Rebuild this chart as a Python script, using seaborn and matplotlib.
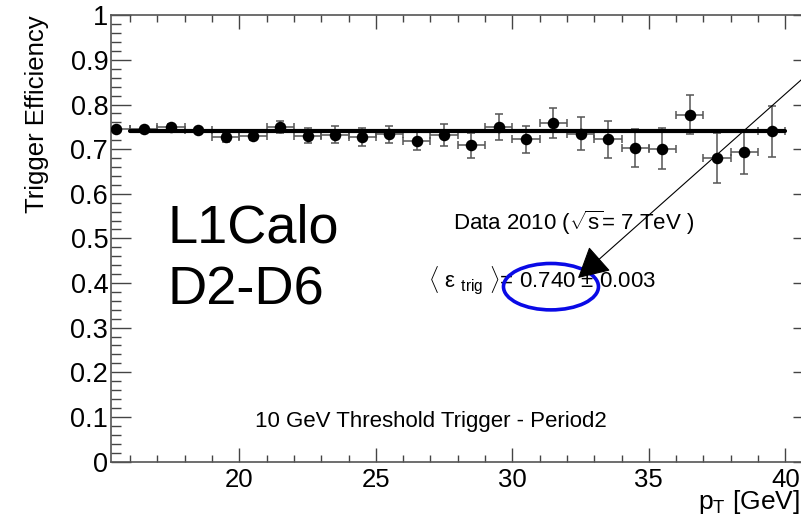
import matplotlib
matplotlib.use("Agg")
import matplotlib.pyplot as plt
from matplotlib.patches import Ellipse
from matplotlib.ticker import MultipleLocator
import pandas as pd
import seaborn as sns

# Trigger efficiency per 1 GeV pT bin
pt_bin_centres = [15.5, 16.5, 17.5, 18.5, 19.5, 20.5, 21.5, 22.5, 23.5, 24.5,
                  25.5, 26.5, 27.5, 28.5, 29.5, 30.5, 31.5, 32.5, 33.5, 34.5,
                  35.5, 36.5, 37.5, 38.5, 39.5]
efficiency = [0.745, 0.745, 0.750, 0.743, 0.727, 0.730, 0.750, 0.730, 0.732, 0.727,
              0.733, 0.718, 0.732, 0.709, 0.750, 0.722, 0.759, 0.734, 0.722, 0.703,
              0.701, 0.777, 0.680, 0.693, 0.740]
efficiency_err = [0.005, 0.005, 0.007, 0.005, 0.010, 0.010, 0.014, 0.017, 0.019, 0.020,
                  0.020, 0.020, 0.025, 0.028, 0.029, 0.031, 0.034, 0.037, 0.041, 0.043,
                  0.046, 0.044, 0.056, 0.049, 0.057]
bin_half_width = [0.5] * len(pt_bin_centres)

# Constant fit over the plateau
fit_value = 0.740
fit_error = 0.003
fit_range = [16, 40]

x_ticks = [20, 25, 30, 35, 40]
x_tick_labels = ["20", "25", "30", "35", "40"]
y_ticks = [0, 0.1, 0.2, 0.3, 0.4, 0.5, 0.6, 0.7, 0.8, 0.9, 1.0]
y_tick_labels = ["0", "0.1", "0.2", "0.3", "0.4", "0.5", "0.6", "0.7", "0.8", "0.9", "1"]

df = pd.DataFrame({"pt": pt_bin_centres, "eff": efficiency,
                   "err": efficiency_err, "xerr": bin_half_width})

sns.set_style("ticks")
plt.rcParams["font.family"] = ["Liberation Sans", "DejaVu Sans"]
plt.rcParams["text.color"] = "black"
plt.rcParams["axes.labelcolor"] = "black"
plt.rcParams["mathtext.fontset"] = "custom"
plt.rcParams["mathtext.rm"] = "Liberation Sans"
plt.rcParams["mathtext.it"] = "Liberation Sans:italic"
plt.rcParams["mathtext.bf"] = "Liberation Sans:bold"

fig = plt.figure(figsize=(8.01, 5.16), dpi=100)
ax = fig.add_axes([111 / 801, (516 - 461.5) / 516, (812.6 - 111) / 801, 446.2 / 516])
ax.set_xlim(15.3, 41.0)
ax.set_ylim(0, 1)

ax.errorbar(df["pt"], df["eff"], yerr=df["err"], xerr=df["xerr"], fmt="none",
            ecolor="#555555", elinewidth=1.1, capsize=3, capthick=1.1, zorder=2)
sns.lineplot(x=fit_range, y=[fit_value] * len(fit_range), color="black",
             linewidth=3, ax=ax, zorder=3)
sns.scatterplot(data=df, x="pt", y="eff", color="black", s=8.3 ** 2,
                linewidth=0, ax=ax, zorder=4)
ax.set_xlabel("")
ax.set_ylabel("")

# Axis styling: ticks inside on all sides
ax.set_xticks(x_ticks, x_tick_labels)
ax.set_yticks(y_ticks, y_tick_labels)
ax.xaxis.set_minor_locator(MultipleLocator(1))
ax.yaxis.set_minor_locator(MultipleLocator(0.02))
ax.tick_params(which="both", direction="in", top=True, right=True,
               color="#444444", labelcolor="black", width=1)
ax.tick_params(axis="y", which="major", length=14.4, labelsize=19.5, pad=2)
ax.tick_params(axis="y", which="minor", length=7.2)
ax.tick_params(axis="x", which="major", length=10, labelsize=18.5, pad=4.5)
ax.tick_params(axis="x", which="minor", length=5)
for sp in ax.spines.values():
    sp.set_color("#555555")
    sp.set_linewidth(1.2)

ax.text(-0.105, 1.0, "Trigger Efficiency", rotation=90, ha="center", va="top",
        fontsize=18.5, transform=ax.transAxes)
ax.text(0.982, -0.107, r"p$_{\mathrm{T}}$ [GeV]", ha="right", va="baseline",
        fontsize=19, transform=ax.transAxes, clip_on=False)

ax.text(0.080, 0.490, "L1Calo", fontsize=39, ha="left", va="baseline",
        transform=ax.transAxes)
ax.text(0.080, 0.351, "D2-D6", fontsize=39, ha="left", va="baseline",
        transform=ax.transAxes)

ax.text(0.4875, 0.519, r"Data 2010 ($\sqrt{\mathrm{s}}$= 7 TeV )", fontsize=16,
        ha="left", va="baseline", transform=ax.transAxes)
ax.text(0.4518, 0.3888,
        r"$\langle$ ε $_{\mathrm{trig}}$ $\rangle$= " + f"{fit_value:.3f} ± {fit_error:.3f}",
        fontsize=16, ha="left", va="baseline", transform=ax.transAxes)
ax.text(0.2052, 0.0773, "10 GeV Threshold Trigger - Period2", fontsize=16,
        ha="left", va="baseline", transform=ax.transAxes)

ax.add_patch(Ellipse((0.6271, 0.3918), 0.1354, 0.104, transform=ax.transAxes,
                     fill=False, edgecolor="#0a0ae6", linewidth=2.6, zorder=6))
ax.annotate("", xy=(0.6656, 0.4112), xycoords="axes fraction",
            xytext=(1.0248, 0.9126), textcoords="axes fraction",
            arrowprops=dict(arrowstyle="-|>,head_length=1.95,head_width=1.05",
                            mutation_scale=10, color="black", lw=0.8,
                            shrinkA=0, shrinkB=0),
            annotation_clip=False, zorder=7)

fig.savefig("out.png", dpi=100)
